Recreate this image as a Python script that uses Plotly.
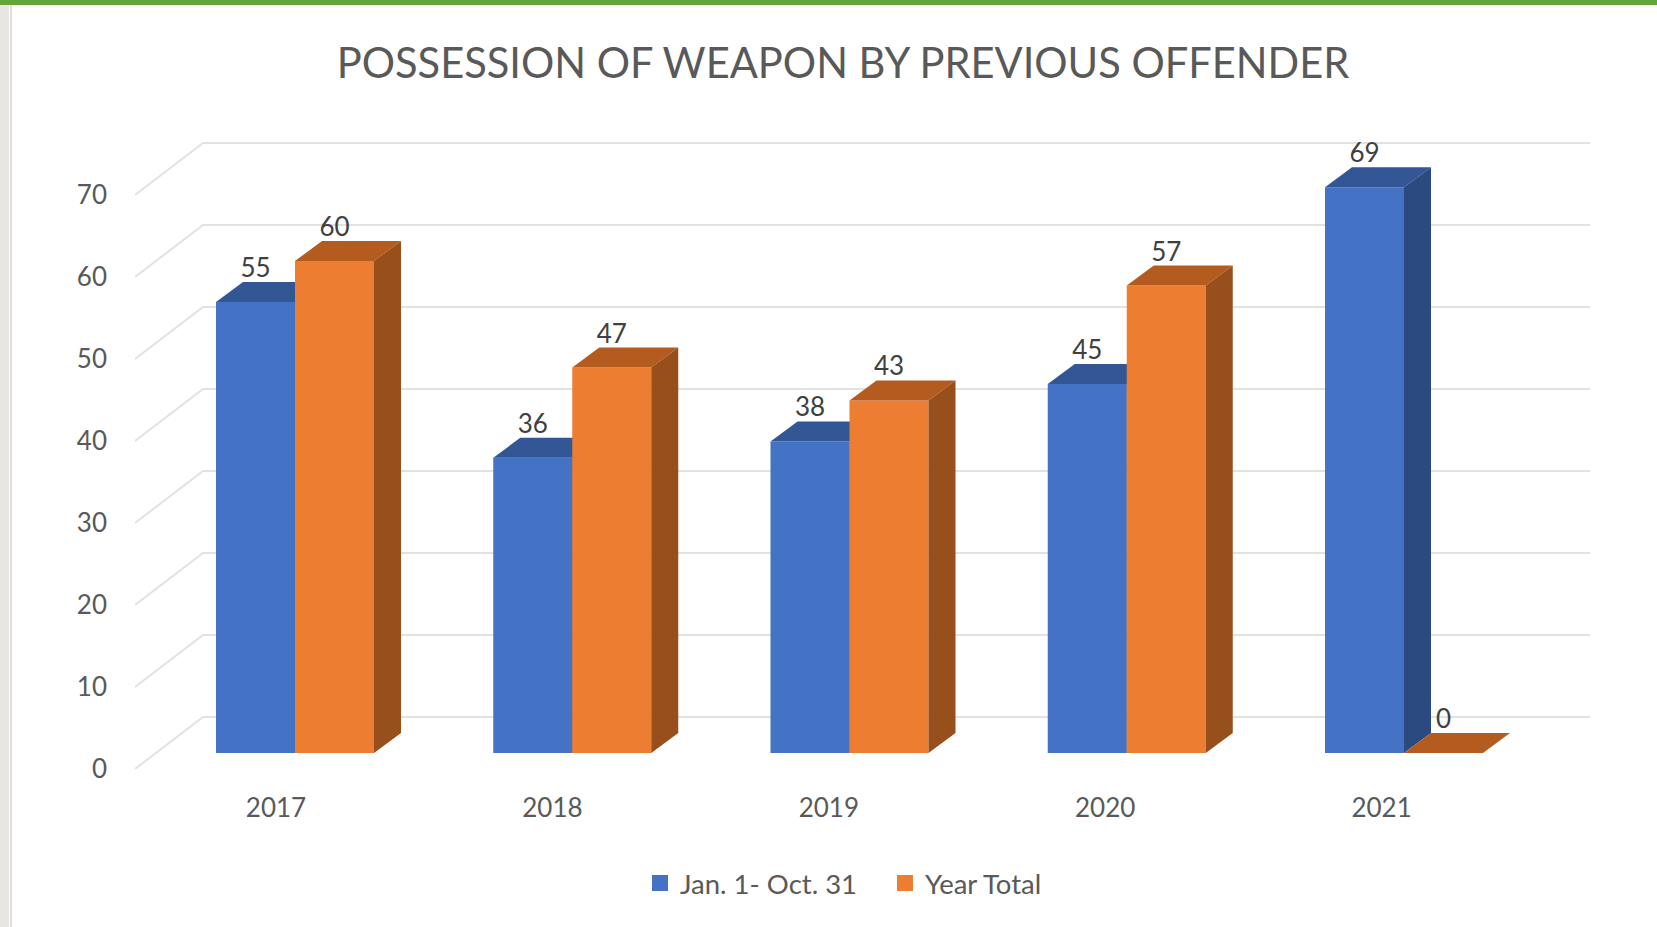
import plotly.graph_objects as go

# ---- data ----
TITLE = "POSSESSION OF WEAPON BY PREVIOUS OFFENDER"
years = [2017, 2018, 2019, 2020, 2021]
jan_oct = [55, 36, 38, 45, 69]
year_total = [60, 47, 43, 57, 0]
y_ticks = [0, 10, 20, 30, 40, 50, 60, 70]
series_names = ["Jan. 1- Oct. 31", "Year Total"]

# ---- geometry (pixels of the 1657x927 page) ----
W, H = 1657, 927
PL, PR, PT, PB = 135, 1590, 130, 769          # plot area
UX, UY = 277.25, 8.2                          # px per year / px per value unit
LABEL_UX = 276.4                              # px per year for the year labels
LABEL_X0, BAR_X0 = 276, 295                   # px of 2017 tick label / 2017 bar group centre
BAR_Y0 = 753                                  # px of value 0 on the bar plane
BAR_W = 79 / UX
DX, DY = 27 / UX, 20 / UY                     # bar depth, in axis units
WALL_DX, WALL_DY = 68 / LABEL_UX, 52 / UY     # wall offset, in axis units

FONT = "Lato, 'Open Sans', sans-serif"
GREY = "#595959"
DARK = "#404040"
GRID = "#e2e2e2"
COL = dict(blue=("#4472c4", "#335695", "#2b4a80"), orange=("#ed7d31", "#b45c20", "#974f1b"))


def x_range(x0_px, ux=UX):
    return [years[0] + (PL - x0_px) / ux, years[0] + (PR - x0_px) / ux]


def y_range(y0_px):
    return [(y0_px - PB) / UY, (y0_px - PT) / UY]


def polygons(values, left, kind):
    xs, ys = [], []
    for yr, v in zip(years, values):
        a = yr + left
        b = a + BAR_W
        if kind == "top":
            xs += [a, b, b + DX, a + DX, a, None]
            ys += [v, v, v + DY, v + DY, v, None]
        elif v > 0:
            xs += [b, b + DX, b + DX, b, b, None]
            ys += [0, DY, v + DY, v, 0, None]
    return xs, ys


def face(values, left, kind, color, ax):
    xs, ys = polygons(values, left, kind)
    return go.Scatter(x=xs, y=ys, mode="lines", fill="toself", fillcolor=color,
                      line=dict(width=0), hoverinfo="skip", showlegend=False,
                      xaxis=ax[0], yaxis=ax[1])


fig = go.Figure()

# back wall and floor lines, from the value ticks
gx, gy = [], []
x_left = x_range(LABEL_X0, LABEL_UX)
for t in y_ticks:
    gx += [x_left[0], x_left[0] + WALL_DX, x_left[1], None]
    gy += [t, t + WALL_DY, t + WALL_DY, None]
fig.add_trace(go.Scatter(x=gx, y=gy, mode="lines", line=dict(color=GRID, width=2),
                         hoverinfo="skip", showlegend=False))
# invisible trace keeps the main axes' year ticks alive
fig.add_trace(go.Scatter(x=years, y=[0] * len(years), mode="markers", marker=dict(opacity=0),
                         hoverinfo="skip", showlegend=False))

for values, name, left, key, ax in [
    (jan_oct, series_names[0], -BAR_W, "blue", ("x2", "y2")),
    (year_total, series_names[1], 0, "orange", ("x3", "y3")),
]:
    front, top, side = COL[key]
    fig.add_trace(go.Bar(x=years, y=values, name=name, width=BAR_W, offset=left,
                         marker=dict(color=front, line=dict(width=0)), showlegend=False,
                         xaxis=ax[0], yaxis=ax[1]))
    fig.add_trace(face(values, left, "top", top, ax))
    fig.add_trace(face(values, left, "side", side, ax))
    fig.add_trace(go.Scatter(x=[y + left + BAR_W / 2 for y in years],
                             y=[v + DY - 1.5 / UY for v in values],
                             text=[str(v) for v in values], mode="text",
                             textposition="top center",
                             textfont=dict(family=FONT, size=26, color=DARK),
                             hoverinfo="skip", showlegend=False,
                             xaxis=ax[0], yaxis=ax[1]))
    # legend key: a square the size of the reference swatch
    fig.add_trace(go.Scatter(x=[None], y=[None], name=name, mode="markers",
                             marker=dict(symbol="square", size=16, color=front, line=dict(width=0)),
                             xaxis=ax[0], yaxis=ax[1]))

fig.update_layout(
    width=W, height=H, autosize=False,
    margin=dict(l=PL, r=W - PR, t=PT, b=H - PB),
    paper_bgcolor="white", plot_bgcolor="white",
    font=dict(family=FONT, color=GREY),
    barmode="overlay",
    title=dict(text=TITLE, x=843 / W, xanchor="center", y=1 - 63 / H, yanchor="middle",
               font=dict(family=FONT, size=41.6, color=GREY)),
    xaxis=dict(range=x_range(LABEL_X0, LABEL_UX), tickmode="array", tickvals=years,
               ticktext=[str(y) for y in years], showgrid=False, zeroline=False, showline=False,
               ticks="", ticklabelstandoff=21, tickfont=dict(family=FONT, size=26, color=GREY)),
    yaxis=dict(range=y_range(PB), tickmode="array", tickvals=y_ticks, showgrid=False,
               zeroline=False, showline=False, ticks="", ticklabelstandoff=27,
               tickfont=dict(family=FONT, size=26, color=GREY)),
    xaxis2=dict(range=x_range(BAR_X0), overlaying="x", visible=False),
    yaxis2=dict(range=y_range(BAR_Y0), overlaying="y", visible=False),
    xaxis3=dict(range=x_range(BAR_X0), overlaying="x", visible=False),
    yaxis3=dict(range=y_range(BAR_Y0), overlaying="y", visible=False),
    legend=dict(orientation="h", x=(640 - PL) / (PR - PL), xanchor="left", y=1 - 883 / H,
                yanchor="middle", yref="container", font=dict(family=FONT, size=27.5, color=GREY),
                entrywidthmode="pixels", entrywidth=200,
                itemclick=False, itemdoubleclick=False, traceorder="normal"),
    shapes=[
        dict(type="rect", xref="paper", yref="paper", layer="above", line=dict(width=0),
             x0=-PL / (PR - PL), x1=(-PL + 9) / (PR - PL),
             y0=-(H - PB) / (PB - PT), y1=(PB) / (PB - PT), fillcolor="#e7e6e2"),
        dict(type="rect", xref="paper", yref="paper", layer="above", line=dict(width=0),
             x0=(-PL + 10) / (PR - PL), x1=(-PL + 12) / (PR - PL),
             y0=-(H - PB) / (PB - PT), y1=(PB) / (PB - PT), fillcolor="#dedede"),
        dict(type="rect", xref="paper", yref="paper", layer="above", line=dict(width=0),
             x0=-PL / (PR - PL), x1=(W - PL) / (PR - PL),
             y0=(PB - 5) / (PB - PT), y1=(PB) / (PB - PT), fillcolor="#66a53a"),
    ],
)

fig.write_html("out.html", config=dict(displayModeBar=False),
               post_script="document.body.style.margin='0';document.body.style.overflow='hidden';")
